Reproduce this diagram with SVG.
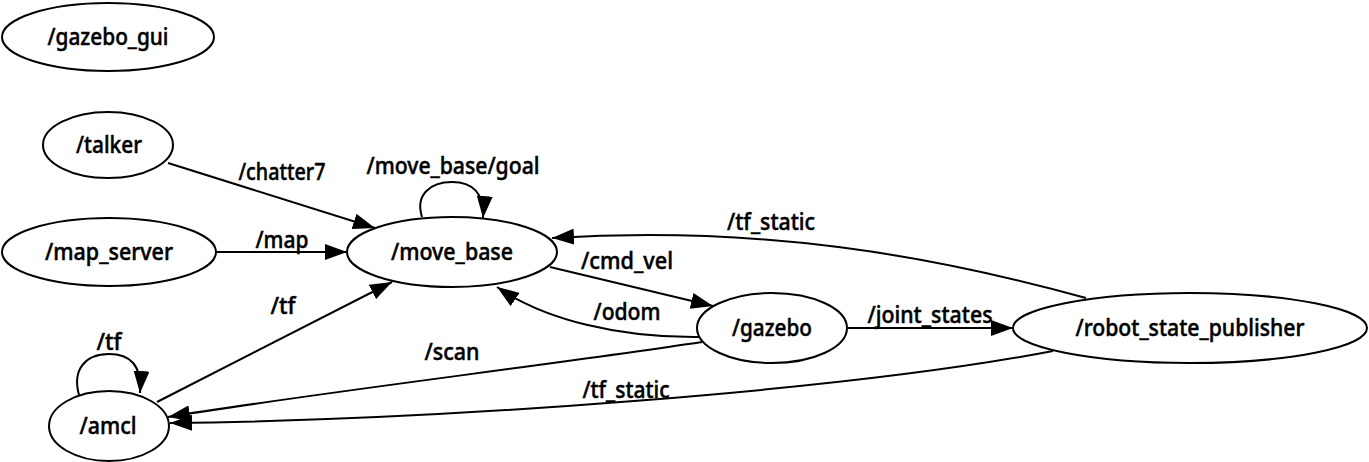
<svg xmlns="http://www.w3.org/2000/svg" width="1369" height="462" viewBox="0 0 1369 462">
<style>
.n ellipse{fill:#fff;stroke:#000;stroke-width:2}
text{font-family:"Noto Sans","Noto Sans CJK JP",sans-serif;font-size:24px;font-weight:500;fill:#000;stroke:#000;stroke-width:0.5;text-anchor:middle}
.e path{fill:none;stroke:#000;stroke-width:2;marker-end:url(#ah)}
</style>
<defs>
<marker id="ah" viewBox="0 0 22 16" refX="22" refY="8" markerWidth="22" markerHeight="16" markerUnits="userSpaceOnUse" orient="auto"><path d="M0,0 L22,8 L0,16 z" fill="#000"/></marker>
</defs>
<g id="connectors" class="e">
<path d="M168,163 L375,228"/>
<text x="282" y="180" textLength="87" lengthAdjust="spacingAndGlyphs">/chatter7</text>
<path d="M216,252 L347,252"/>
<text x="282" y="248" textLength="53" lengthAdjust="spacingAndGlyphs">/map</text>
<path d="M157,402 L392,282"/>
<text x="283" y="314" textLength="25" lengthAdjust="spacingAndGlyphs">/tf</text>
<path d="M79,395 C72,370 85,354 109,354 C130,354 142,365 140,393"/>
<text x="109" y="350" textLength="25" lengthAdjust="spacingAndGlyphs">/tf</text>
<path d="M422,217 C415,195 430,182 452,182 C472,182 485,193 483,218"/>
<text x="453" y="174" textLength="173" lengthAdjust="spacingAndGlyphs">/move_base/goal</text>
<path d="M550,267 L713,306"/>
<text x="627" y="269" textLength="92" lengthAdjust="spacingAndGlyphs">/cmd_vel</text>
<path d="M700,337 C620,338 545,320 497,287"/>
<text x="627" y="320" textLength="67" lengthAdjust="spacingAndGlyphs">/odom</text>
<path d="M702,342 C550,365 300,395 168,417"/>
<text x="452" y="360" textLength="55" lengthAdjust="spacingAndGlyphs">/scan</text>
<path d="M1053,351 C850,390 450,420 170,423"/>
<text x="626" y="398" textLength="87" lengthAdjust="spacingAndGlyphs">/tf_static</text>
<path d="M1086,298 C930,255 760,225 552,238"/>
<text x="771" y="230" textLength="88" lengthAdjust="spacingAndGlyphs">/tf_static</text>
<path d="M848,328 L1013,328"/>
<text x="930" y="323" textLength="125" lengthAdjust="spacingAndGlyphs">/joint_states</text>
</g>
<g id="gazebo_gui" class="n"><ellipse cx="108" cy="37" rx="106" ry="34"/><text x="108" y="45" textLength="121" lengthAdjust="spacingAndGlyphs">/gazebo_gui</text></g>
<g id="talker" class="n"><ellipse cx="108" cy="145" rx="65" ry="33"/><text x="109" y="153" textLength="66" lengthAdjust="spacingAndGlyphs">/talker</text></g>
<g id="map_server" class="n"><ellipse cx="109" cy="252" rx="107" ry="34"/><text x="109" y="260" textLength="128" lengthAdjust="spacingAndGlyphs">/map_server</text></g>
<g id="move_base" class="n"><ellipse cx="452" cy="252" rx="105" ry="35"/><text x="452" y="260" textLength="122" lengthAdjust="spacingAndGlyphs">/move_base</text></g>
<g id="amcl" class="n"><ellipse cx="109" cy="426" rx="60" ry="35"/><text x="108" y="434" textLength="57" lengthAdjust="spacingAndGlyphs">/amcl</text></g>
<g id="gazebo" class="n"><ellipse cx="772" cy="328" rx="75" ry="35"/><text x="772" y="336" textLength="80" lengthAdjust="spacingAndGlyphs">/gazebo</text></g>
<g id="robot_state_publisher" class="n"><ellipse cx="1190" cy="328" rx="177" ry="35"/><text x="1190" y="336" textLength="229" lengthAdjust="spacingAndGlyphs">/robot_state_publisher</text></g>
</svg>
